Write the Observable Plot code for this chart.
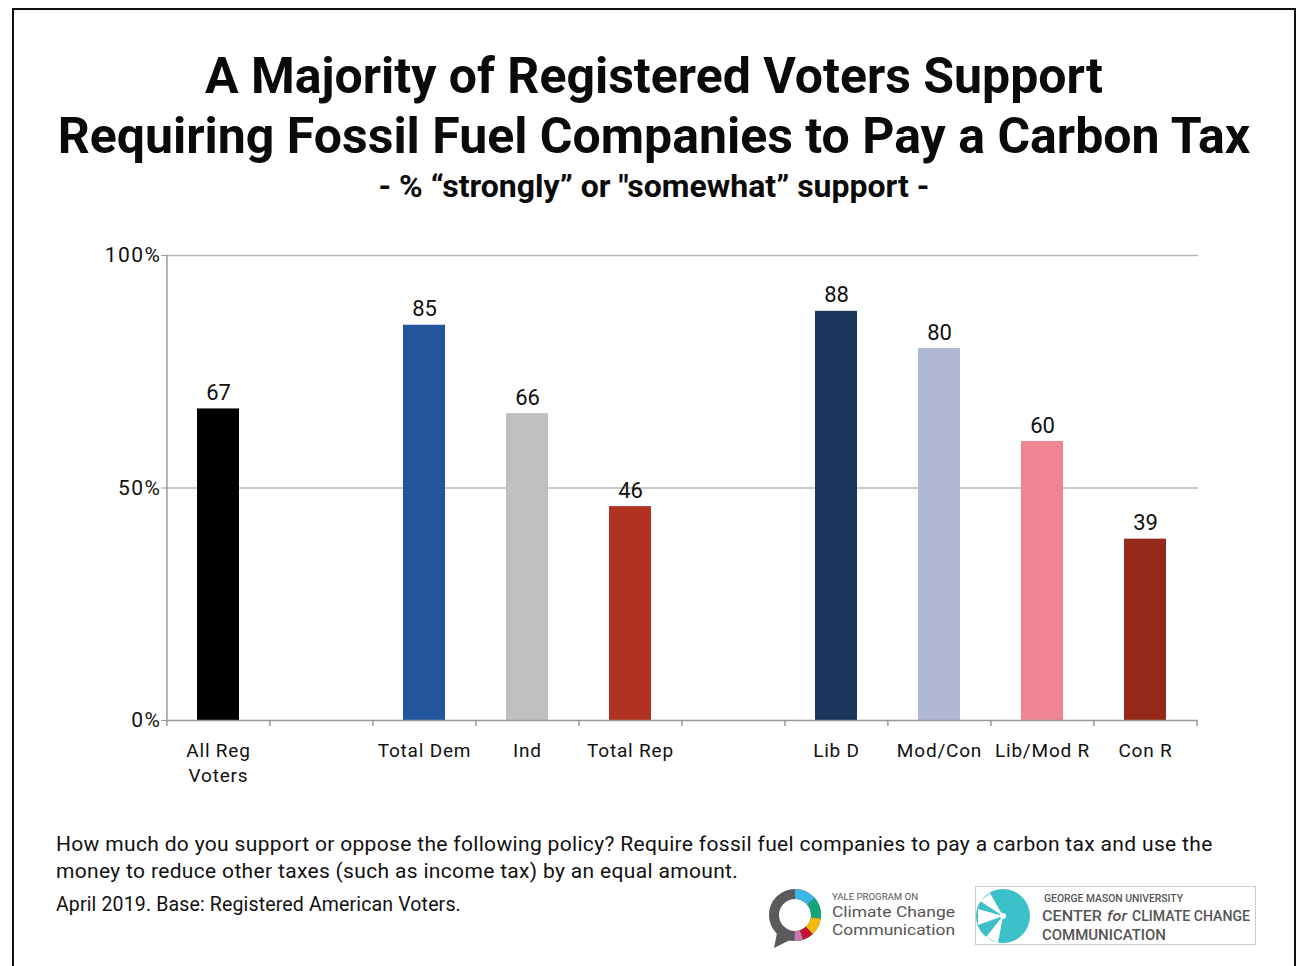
<!DOCTYPE html>
<html>
<head>
<meta charset="utf-8">
<script src="https://cdn.jsdelivr.net/npm/d3@7"></script>
<script src="https://cdn.jsdelivr.net/npm/@observablehq/plot@0.6"></script>
<style>
  html, body { margin: 0; padding: 0; background: #fff; }
  body { width: 1296px; height: 966px; position: relative; overflow: hidden; font-family: Roboto, "Noto Sans", sans-serif; color: #111; }
  #frame { position: absolute; left: 12px; top: 8px; width: 1284px; height: 1000px; border: 2px solid #111; box-sizing: border-box; }
  #title { position: absolute; left: 12px; width: 1284px; top: 46px; text-align: center; font-weight: 700; font-size: 50px; line-height: 60px; color: #0a0a0a; }
  #subtitle { position: absolute; left: 12px; width: 1284px; top: 167px; text-align: center; font-weight: 700; font-size: 32px; line-height: 38px; color: #0a0a0a; }
  #chart { position: absolute; left: 0; top: 230px; }
  #note { position: absolute; left: 56px; top: 831px; width: 1170px; font-size: 21px; letter-spacing: 0.33px; line-height: 27px; color: #111; }
  #base { position: absolute; left: 56px; top: 893px; font-size: 19.5px; letter-spacing: 0.15px; color: #111; }
  #yale { position: absolute; left: 766px; top: 884px; width: 200px; height: 66px; }
  #gmu { position: absolute; left: 975px; top: 886px; width: 281px; height: 59px; border: 1px solid #ccc; box-sizing: border-box; }
</style>
</head>
<body>
<div id="frame"></div>
<div id="title">A Majority of Registered Voters Support<br>Requiring Fossil Fuel Companies to Pay a Carbon Tax</div>
<div id="subtitle">- % “strongly” or "somewhat” support -</div>
<div id="chart"></div>
<div id="note">How much do you support or oppose the following policy? Require fossil fuel companies to pay a carbon tax and use the money to reduce other taxes (such as income tax) by an equal amount.</div>
<div id="base">April 2019. Base: Registered American Voters.</div>
<div id="yale">
  <svg width="200" height="66" viewBox="0 0 200 66">
    <circle cx="29" cy="31" r="21" fill="none" stroke="#5a5a5c" stroke-width="10"/>
    <path d="M12 44 L8 64 L28 54 Z" fill="#5a5a5c"/>
    <circle cx="29" cy="31" r="21" fill="none" stroke="#3ab5e6" stroke-width="10" stroke-dasharray="18 200" transform="rotate(-90 29 31)"/>
    <circle cx="29" cy="31" r="21" fill="none" stroke="#16a57b" stroke-width="10" stroke-dasharray="0 18 18 200" transform="rotate(-90 29 31)"/>
    <circle cx="29" cy="31" r="21" fill="none" stroke="#f6b90f" stroke-width="10" stroke-dasharray="0 36 14 200" transform="rotate(-90 29 31)"/>
    <circle cx="29" cy="31" r="21" fill="none" stroke="#c4122f" stroke-width="10" stroke-dasharray="0 50 9 200" transform="rotate(-90 29 31)"/>
    <circle cx="29" cy="31" r="21" fill="none" stroke="#c27bb0" stroke-width="10" stroke-dasharray="0 59 7 200" transform="rotate(-90 29 31)"/>
    <text x="66" y="16" font-size="9" fill="#555" font-family="Roboto" textLength="86" lengthAdjust="spacingAndGlyphs">YALE PROGRAM ON</text>
    <text x="66" y="33" font-size="15.5" fill="#555" font-family="Roboto" textLength="123" lengthAdjust="spacingAndGlyphs">Climate Change</text>
    <text x="66" y="51" font-size="15.5" fill="#555" font-family="Roboto" textLength="123" lengthAdjust="spacingAndGlyphs">Communication</text>
  </svg>
</div>
<div id="gmu">
  <svg width="281" height="59" viewBox="0 0 281 59">
    <circle cx="27" cy="29" r="27" fill="#3cc0c9"/>
    <path d="M27 29 L2 22 L2 38 Z M27 29 L10 50 L22 56 Z M27 29 L14 6 L4 14 Z" fill="#fff"/>
    <circle cx="27" cy="29" r="3" fill="#fff"/>
    <text x="68" y="15" font-size="10" font-weight="500" fill="#555" font-family="Roboto" textLength="139" lengthAdjust="spacingAndGlyphs">GEORGE MASON UNIVERSITY</text>
    <text x="66" y="34" font-size="15" font-weight="500" fill="#555" font-family="Roboto" textLength="60" lengthAdjust="spacingAndGlyphs">CENTER</text>
    <text x="131" y="34" font-size="15" font-weight="500" font-style="italic" fill="#555" font-family="Roboto" textLength="20" lengthAdjust="spacingAndGlyphs">for</text>
    <text x="156" y="34" font-size="15" font-weight="500" fill="#555" font-family="Roboto" textLength="118" lengthAdjust="spacingAndGlyphs">CLIMATE CHANGE</text>
    <text x="66" y="53" font-size="15" font-weight="500" fill="#555" font-family="Roboto" textLength="124" lengthAdjust="spacingAndGlyphs">COMMUNICATION</text>
  </svg>
</div>
<script>
// ---- data ----
const slots = ["All Reg\nVoters", " ", "Total Dem", "Ind", "Total Rep", "  ", "Lib D", "Mod/Con", "Lib/Mod R", "Con R"];
const categories = ["All Reg\nVoters", "Total Dem", "Ind", "Total Rep", "Lib D", "Mod/Con", "Lib/Mod R", "Con R"];
const values = [67, 85, 66, 46, 88, 80, 60, 39];
const colors = ["#000000", "#23559a", "#bfbfbf", "#b03220", "#1b365d", "#b2b9d6", "#ef8593", "#952919"];
const yTicks = [0, 50, 100];
const gridTicks = [50, 100];

const data = categories.map((c, i) => ({cat: c, value: values[i], color: colors[i]}));

const W = 1296, ML = 166, MR = 98;
const step = (W - ML - MR) / slots.length;

const chart = Plot.plot({
  width: W,
  height: 580,
  marginLeft: ML,
  marginRight: MR,
  marginTop: 25,
  marginBottom: 90,
  style: {fontFamily: "Roboto, sans-serif", color: "#111", background: "transparent"},
  x: {domain: slots, paddingInner: 0.59, paddingOuter: 0.295, axis: null, label: null},
  y: {domain: [0, 100], axis: null, label: null},
  marks: [
    Plot.gridY(gridTicks, {stroke: "#b8b8b8", strokeOpacity: 1, strokeWidth: 1.3}),
    Plot.barY(data, {x: "cat", y: "value", fill: "color"}),
    Plot.ruleY([0], {stroke: "#999", strokeWidth: 1.5}),
    Plot.ruleX([slots[0]], {x: d => d, y1: 0, y2: 100, dx: -step / 2, stroke: "#999", strokeWidth: 1.5}),
    Plot.axisY(yTicks, {label: null, tickFormat: d => d + "%", tickSize: 5, tickPadding: 0, fontSize: 21, stroke: "#999", fill: "#111"}),
    Plot.axisX(slots, {label: null, tickSize: 6, tickFormat: () => "", dx: -step / 2, stroke: "#999", strokeWidth: 1.5}),
    Plot.axisX([slots[slots.length - 1]], {label: null, tickSize: 6, tickFormat: () => "", dx: step / 2, stroke: "#999", strokeWidth: 1.5}),
    Plot.axisX(categories, {label: null, tickSize: 0, tickPadding: 19, fontSize: 19, lineHeight: 1.3, fill: "#111", tickFormat: d => d}),
    Plot.text(data, {x: "cat", y: "value", text: d => String(d.value), lineAnchor: "bottom", dy: -9, fontSize: 22, fill: "#111"})
  ]
});
d3.select(chart).selectAll("g[aria-label='y-axis tick label'] text").style("letter-spacing", "1.5px");
d3.select(chart).selectAll("g[aria-label='x-axis tick label'] text").style("letter-spacing", "0.8px");
document.getElementById("chart").appendChild(chart);
</script>
</body>
</html>
